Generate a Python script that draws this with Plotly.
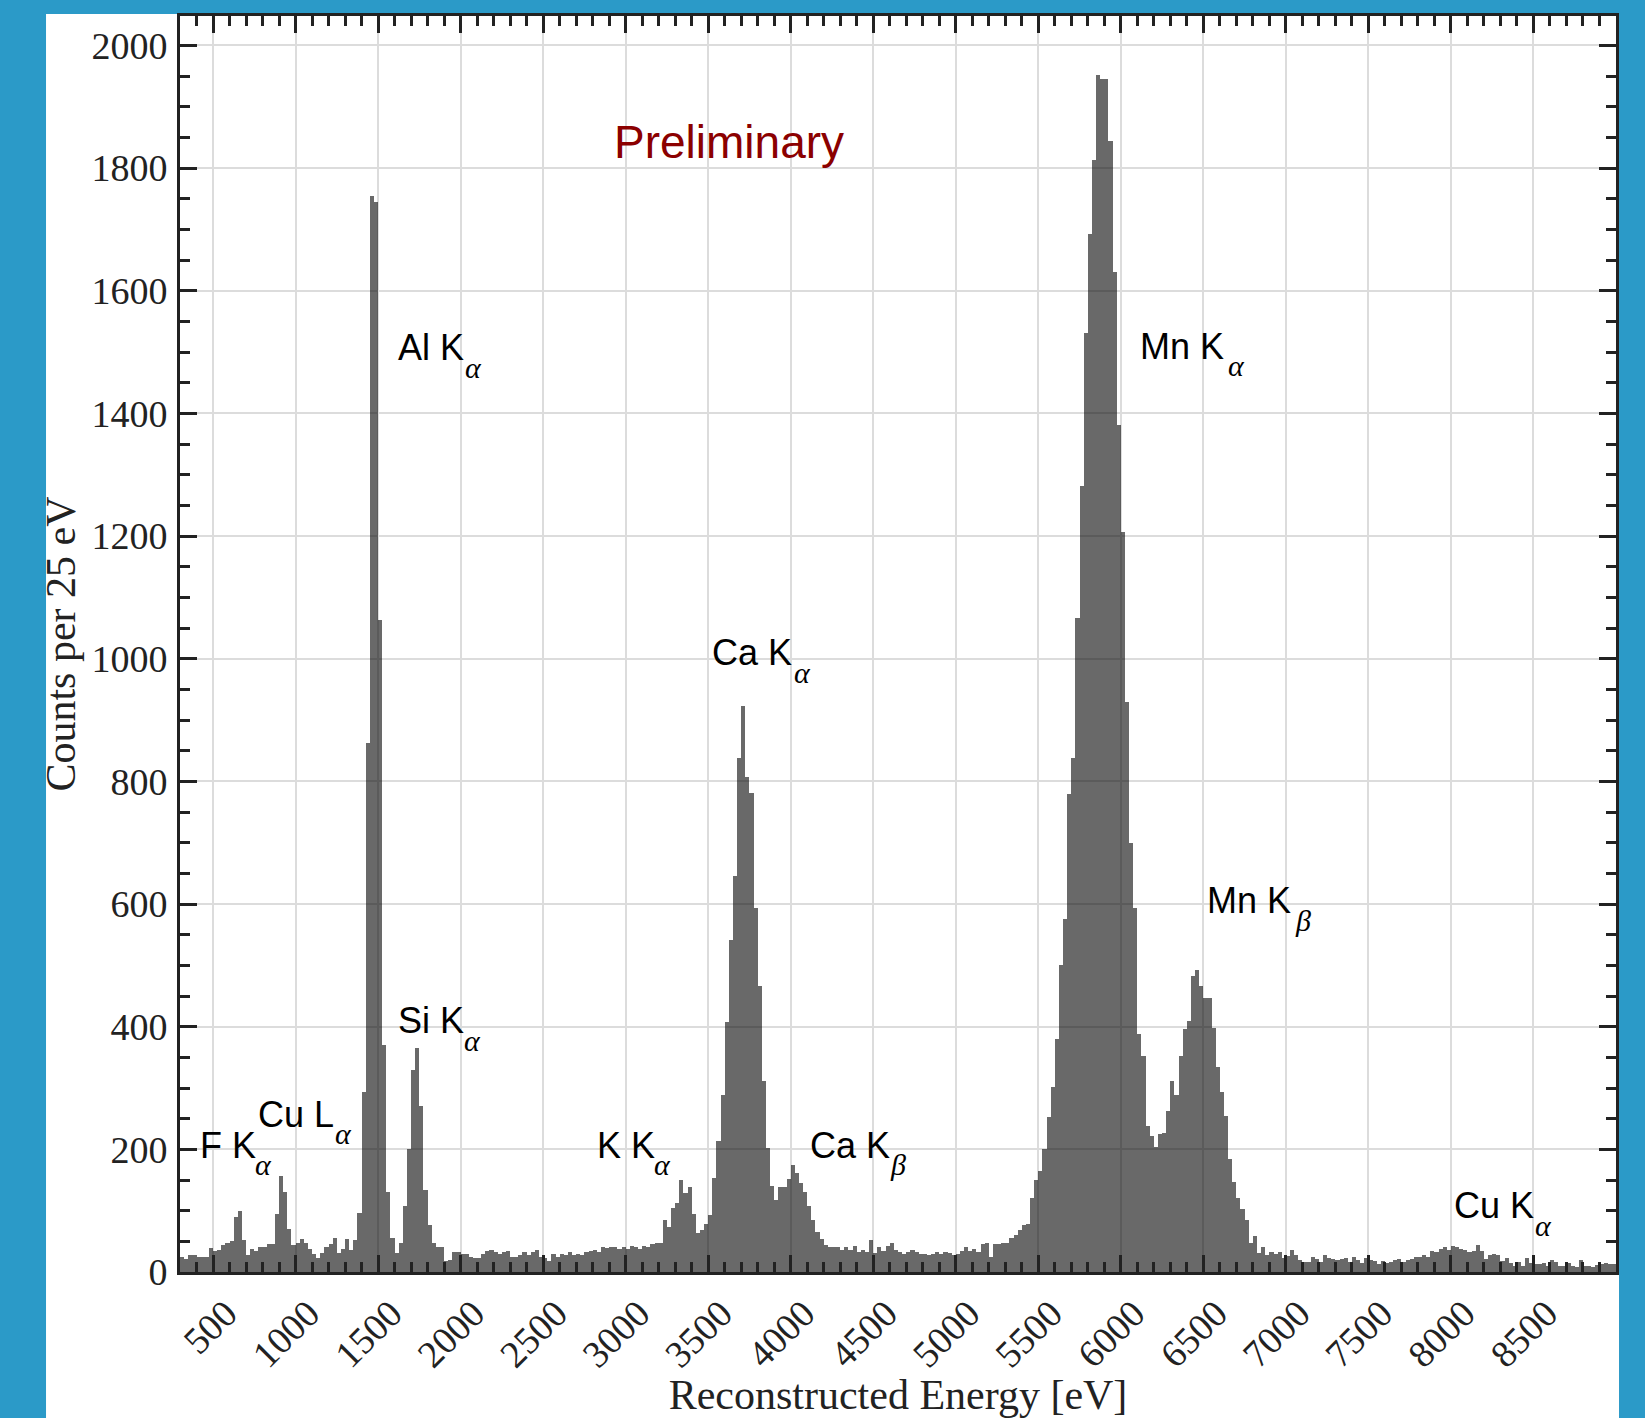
import plotly.graph_objects as go

# ---------------- data (counts per 25 eV bin, first bin starts at 300 eV) ----------------
bin_start = 300
bin_width = 25

counts_0300_1300 = [25, 21, 28, 27, 25, 25, 24, 39, 34, 36, 44, 47, 51, 89, 100, 53, 28, 37, 34, 41,
                    41, 45, 45, 95, 156, 131, 70, 44, 48, 54, 48, 37, 30, 23, 31, 40, 45, 56, 31, 38]
counts_1300_2300 = [54, 36, 52, 97, 294, 863, 1755, 1745, 1063, 370, 131, 55, 31, 48, 107, 200, 329, 365, 270, 133,
                    76, 47, 40, 40, 18, 20, 33, 32, 29, 30, 24, 23, 23, 30, 35, 36, 32, 29, 32, 35]
counts_2300_3300 = [24, 24, 28, 32, 27, 32, 36, 24, 23, 18, 29, 25, 30, 27, 33, 27, 29, 28, 32, 35,
                    36, 33, 41, 39, 40, 41, 38, 40, 37, 42, 41, 37, 42, 40, 46, 47, 47, 84, 74, 104]
counts_3300_4300 = [112, 150, 129, 138, 94, 64, 69, 79, 93, 153, 214, 288, 407, 541, 646, 838, 923, 807, 781, 594,
                    467, 312, 202, 140, 117, 138, 138, 152, 174, 162, 145, 131, 108, 84, 66, 54, 44, 41, 40, 40]
counts_4300_5300 = [36, 41, 36, 43, 33, 36, 32, 53, 31, 40, 35, 42, 48, 36, 32, 29, 33, 36, 33, 30,
                    29, 27, 30, 32, 29, 33, 31, 28, 29, 35, 41, 35, 37, 32, 45, 47, 24, 45, 46, 47]
counts_5300_6300 = [48, 55, 60, 68, 76, 79, 120, 150, 165, 200, 253, 301, 380, 500, 576, 779, 838, 1066, 1281, 1531,
                    1693, 1814, 1951, 1945, 1945, 1845, 1630, 1381, 1207, 930, 700, 594, 388, 352, 238, 222, 204, 225, 226, 263]
counts_6300_7300 = [311, 288, 353, 397, 409, 483, 493, 467, 447, 447, 398, 335, 294, 254, 184, 146, 121, 102, 84, 47,
                    58, 31, 41, 28, 32, 30, 32, 23, 26, 36, 27, 20, 17, 17, 24, 21, 17, 28, 23, 21]
counts_7300_8300 = [20, 21, 23, 17, 24, 20, 15, 23, 20, 18, 13, 18, 14, 17, 20, 22, 17, 20, 21, 24,
                    25, 27, 24, 35, 32, 37, 40, 36, 43, 40, 37, 36, 32, 35, 44, 35, 21, 28, 30, 27]
counts_8300_9000 = [18, 23, 14, 10, 17, 9, 23, 14, 13, 13, 14, 10, 20, 16, 9, 10, 15, 10, 8, 20,
                    9, 9, 8, 12, 13, 14, 13, 13]

x_tick_values = [500, 1000, 1500, 2000, 2500, 3000, 3500, 4000, 4500, 5000, 5500, 6000, 6500, 7000, 7500, 8000, 8500]
y_tick_values = [0, 200, 400, 600, 800, 1000, 1200, 1400, 1600, 1800, 2000]

# peak labels: main text, subscript, left edge (eV), baseline (counts), subscript left edge (eV)
label_text = ["F K", "Cu L", "Al K", "Si K", "K K", "Ca K", "Ca K", "Mn K", "Mn K", "Cu K"]
label_sub = ["α", "α", "α", "α", "α", "β", "α", "α", "β", "α"]
label_x = [409, 759, 1611, 1611, 2813, 4104, 3509, 6106, 6507, 8005]
label_y = [186, 237, 1487, 389, 186, 186, 989, 1489, 585, 88]
label_sub_x = [741, 1224, 2013, 2007, 3162, 4589, 4005, 6636, 7041, 8496]

counts = (counts_0300_1300 + counts_1300_2300 + counts_2300_3300 + counts_3300_4300 +
          counts_4300_5300 + counts_5300_6300 + counts_6300_7300 + counts_7300_8300 + counts_8300_9000)
centers = [bin_start + bin_width * (i + 0.5) for i in range(len(counts))]

# ---------------- figure ----------------
SERIF = "Liberation Serif"
SANS = "Liberation Sans"
INK = "#222222"
BLUE = "#2b9ac8"

fig = go.Figure(go.Bar(
    x=centers, y=counts, width=bin_width,
    marker=dict(color="rgba(0,0,0,0.59)", line=dict(width=0)),
    hoverinfo="x+y",
))

axis_common = dict(
    ticks="inside", ticklen=17, tickwidth=3, tickcolor=INK,
    showline=True, linewidth=3, linecolor=INK, mirror="allticks",
    showgrid=True, gridcolor="#dcdcdc", gridwidth=2, zeroline=False,
    tickfont=dict(family=SERIF, size=38, color=INK),
)

fig.update_layout(
    width=1645, height=1418,
    margin=dict(l=180, r=29, t=16, b=146, autoexpand=False),
    paper_bgcolor=BLUE, plot_bgcolor="white",
    showlegend=False, bargap=0,
    xaxis=dict(
        range=[300, 9000], tickmode="array", tickvals=x_tick_values,
        ticktext=[str(v) for v in x_tick_values], tickangle=-45,
        ticklabelstandoff=1, ticklabelshift=13,
        minor=dict(ticks="inside", ticklen=10, tickwidth=2.5, tickcolor=INK,
                   tick0=300, dtick=100, showgrid=False),
        title=dict(text="Reconstructed Energy [eV]",
                   font=dict(family=SERIF, size=42, color=INK), standoff=10),
        **axis_common,
    ),
    yaxis=dict(
        range=[0, 2048], tickmode="array", tickvals=y_tick_values,
        ticktext=[str(v) for v in y_tick_values],
        ticklabelstandoff=2,
        minor=dict(ticks="inside", ticklen=10, tickwidth=2.5, tickcolor=INK,
                   tick0=0, dtick=50, showgrid=False),
        title=dict(text="Counts per 25 eV",
                   font=dict(family=SERIF, size=42, color=INK), standoff=3),
        **axis_common,
    ),
)

# white panel on the blue page
fig.add_shape(type="rect", xref="paper", yref="paper",
              x0=-0.0933, x1=1.0021, y0=-0.3, y1=1.0016,
              fillcolor="white", line=dict(width=0), layer="below")

MAIN_SIZE = 36
SUB_SIZE = 30
for txt, sub, x, y, sx in zip(label_text, label_sub, label_x, label_y, label_sub_x):
    fig.add_annotation(x=x, y=y, xref="x", yref="y", text=txt, showarrow=False,
                       xanchor="left", yanchor="middle", yshift=0.35 * MAIN_SIZE,
                       font=dict(family=SANS, size=MAIN_SIZE, color="black"))
    fig.add_annotation(x=sx, y=y, xref="x", yref="y", text="<i>" + sub + "</i>", showarrow=False,
                       xanchor="left", yanchor="middle", yshift=0.35 * SUB_SIZE - 17.5,
                       font=dict(family=SERIF, size=SUB_SIZE, color="black"))

fig.add_annotation(x=3628, y=1843, xref="x", yref="y", text="Preliminary", showarrow=False,
                   xanchor="center", yanchor="middle",
                   font=dict(family=SANS, size=46, color="#8b0000"))

fig.write_html(
    "out.html",
    config={"displayModeBar": False},
    post_script="document.body.style.margin='0px';document.body.style.padding='0px';"
                "document.body.style.background='" + BLUE + "';"
                "document.documentElement.style.overflow='hidden';",
)
